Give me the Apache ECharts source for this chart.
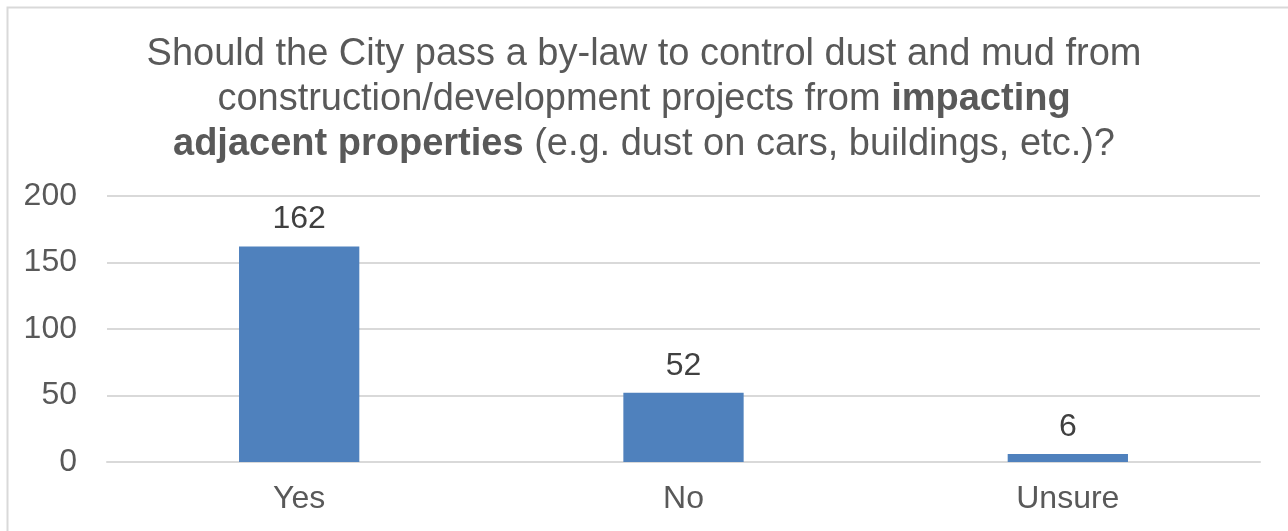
<!DOCTYPE html>
<html><head><meta charset="utf-8">
<script src="https://cdn.jsdelivr.net/npm/echarts@6/dist/echarts.min.js"></script>
<style>html,body{margin:0;padding:0;background:#fff}#c{width:1288px;height:531px}</style>
</head><body><div id="c"></div>
<script>
const categories = ['Yes', 'No', 'Unsure'];
const counts = [162, 52, 6];
const yTicks = [0, 50, 100, 150, 200];

const chart = echarts.init(document.getElementById('c'));
const F = '"Liberation Sans", Arial, sans-serif';
chart.setOption({
  animation: false,
  backgroundColor: '#fff',
  graphic: [{
    type: 'rect', shape: {x: 7.5, y: 7.5, width: 1300, height: 540},
    style: {fill: 'none', stroke: '#d9d9d9', lineWidth: 2}, silent: true
  }],
  title: {
    left: 'center', top: 27,
    text: 'Should the City pass a by-law to control dust and mud from\nconstruction/development projects from {b|impacting}\n{b|adjacent properties} (e.g. dust on cars, buildings, etc.)?',
    textStyle: {
      fontFamily: F, fontSize: 38, color: '#595959', fontWeight: 'normal', lineHeight: 45,
      rich: {b: {fontFamily: F, fontSize: 38, fontWeight: 'bold', color: '#595959', lineHeight: 45}}
    }
  },
  grid: {left: 107, right: 28, top: 196, bottom: 69, containLabel: false},
  xAxis: {
    type: 'category', data: categories,
    axisLine: {show: true, lineStyle: {color: '#d9d9d9', width: 2}},
    axisTick: {show: false},
    axisLabel: {fontFamily: F, fontSize: 32, color: '#595959', margin: 21}
  },
  yAxis: {
    type: 'value', min: yTicks[0], max: yTicks[yTicks.length - 1], interval: 50,
    axisLine: {show: false}, axisTick: {show: false},
    splitLine: {lineStyle: {color: '#d9d9d9', width: 2}},
    axisLabel: {fontFamily: F, fontSize: 32, color: '#595959', margin: 30}
  },
  series: [{
    type: 'bar', data: counts, barWidth: '31.3%',
    itemStyle: {color: '#4F81BD'},
    label: {show: true, position: 'top', distance: 11, fontFamily: F, fontSize: 32, color: '#404040'}
  }]
});
</script></body></html>
